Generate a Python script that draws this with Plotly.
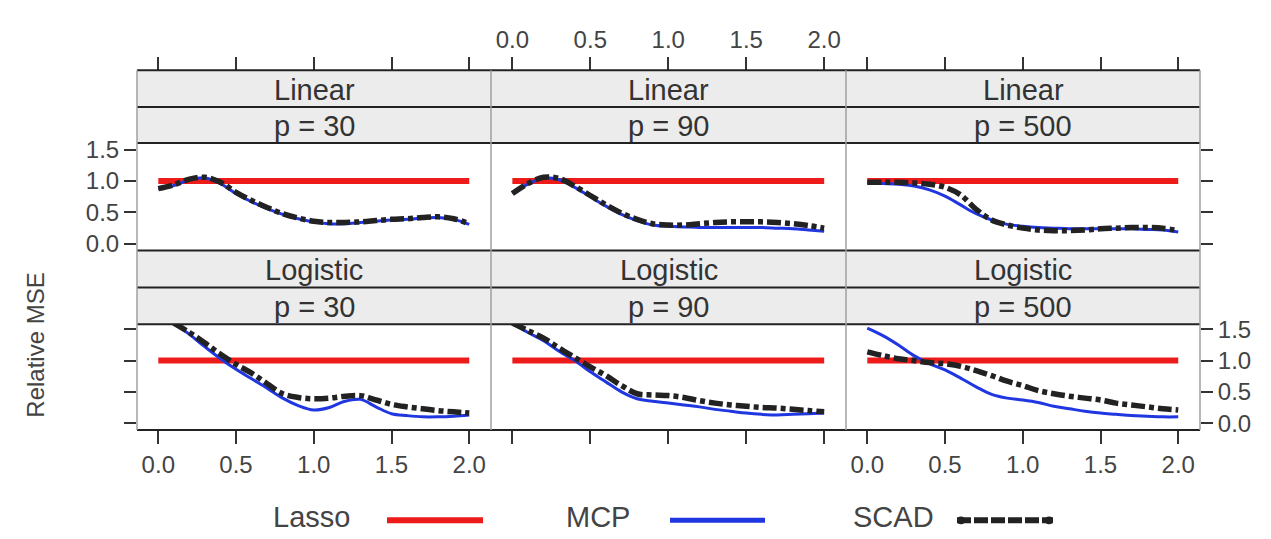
import plotly.graph_objects as go

# ---------------- data ----------------
X = [0.0, 0.1, 0.2, 0.3, 0.4, 0.5, 0.6, 0.7, 0.8, 0.9, 1.0,
     1.1, 1.2, 1.3, 1.4, 1.5, 1.6, 1.7, 1.8, 1.9, 2.0]
LASSO_X = [0.0, 2.0]
LASSO_Y = [1.0, 1.0]

MODELS = ["Linear", "Logistic"]
DIMS = ["p = 30", "p = 90", "p = 500"]
METHODS = ["Lasso", "MCP", "SCAD"]

mcp_linear_30 = [0.88, 0.93, 1.02, 1.05, 0.96, 0.80, 0.67, 0.56, 0.47, 0.40, 0.35,
                 0.32, 0.32, 0.34, 0.36, 0.38, 0.39, 0.41, 0.42, 0.39, 0.31]
scad_linear_30 = [0.88, 0.94, 1.03, 1.06, 0.98, 0.82, 0.69, 0.58, 0.48, 0.41, 0.36,
                  0.34, 0.34, 0.35, 0.37, 0.39, 0.40, 0.42, 0.43, 0.40, 0.32]
mcp_linear_90 = [0.80, 0.95, 1.05, 1.02, 0.90, 0.75, 0.60, 0.47, 0.37, 0.30, 0.28,
                 0.27, 0.26, 0.26, 0.26, 0.26, 0.26, 0.25, 0.24, 0.22, 0.20]
scad_linear_90 = [0.80, 0.96, 1.06, 1.04, 0.92, 0.77, 0.62, 0.49, 0.39, 0.32, 0.30,
                  0.30, 0.32, 0.34, 0.35, 0.35, 0.35, 0.34, 0.32, 0.29, 0.25]
mcp_linear_500 = [0.97, 0.96, 0.95, 0.92, 0.86, 0.76, 0.62, 0.48, 0.38, 0.31, 0.28,
                  0.26, 0.25, 0.24, 0.24, 0.24, 0.24, 0.24, 0.23, 0.22, 0.19]
scad_linear_500 = [0.98, 0.98, 0.98, 0.97, 0.95, 0.90, 0.78, 0.55, 0.38, 0.30, 0.25,
                   0.22, 0.21, 0.21, 0.22, 0.24, 0.25, 0.26, 0.26, 0.25, 0.21]
mcp_logistic_30 = [None, 1.60, 1.42, 1.22, 1.03, 0.86, 0.71, 0.56, 0.40, 0.28, 0.21,
                   0.25, 0.35, 0.38, 0.26, 0.15, 0.12, 0.10, 0.10, 0.11, 0.13]
scad_logistic_30 = [None, 1.60, 1.45, 1.28, 1.10, 0.94, 0.80, 0.63, 0.47, 0.41, 0.39,
                    0.40, 0.43, 0.44, 0.37, 0.30, 0.26, 0.23, 0.20, 0.18, 0.16]
mcp_logistic_90 = [1.60, 1.45, 1.32, 1.15, 1.00, 0.82, 0.66, 0.50, 0.39, 0.35, 0.32,
                   0.29, 0.26, 0.22, 0.19, 0.16, 0.14, 0.13, 0.14, 0.15, 0.16]
scad_logistic_90 = [1.60, 1.48, 1.36, 1.20, 1.05, 0.90, 0.76, 0.60, 0.47, 0.45, 0.44,
                    0.41, 0.36, 0.32, 0.29, 0.27, 0.25, 0.24, 0.22, 0.20, 0.18]
mcp_logistic_500 = [1.52, 1.40, 1.25, 1.08, 0.95, 0.85, 0.72, 0.58, 0.46, 0.40, 0.37,
                    0.33, 0.27, 0.23, 0.19, 0.16, 0.14, 0.12, 0.11, 0.10, 0.10]
scad_logistic_500 = [1.14, 1.08, 1.03, 1.00, 0.97, 0.95, 0.91, 0.84, 0.76, 0.67, 0.60,
                     0.52, 0.47, 0.43, 0.40, 0.37, 0.32, 0.29, 0.26, 0.23, 0.21]

MCP = [[mcp_linear_30, mcp_linear_90, mcp_linear_500],
       [mcp_logistic_30, mcp_logistic_90, mcp_logistic_500]]
SCAD = [[scad_linear_30, scad_linear_90, scad_linear_500],
        [scad_logistic_30, scad_logistic_90, scad_logistic_500]]

XTICKS = [0.0, 0.5, 1.0, 1.5, 2.0]
XTICKTEXT = ["0.0", "0.5", "1.0", "1.5", "2.0"]
YTICKS = [0.0, 0.5, 1.0, 1.5]
YTICKTEXT = ["0.0", "0.5", "1.0", "1.5"]

# ---------------- styling / layout ----------------
W, H = 1271, 539
FONT = "Liberation Sans, Arial, Helvetica, sans-serif"
RED, BLUE, BLACK = "#ee1b1b", "#1f36e0", "#222222"


def fx(p):
    return p / W


def fy(p):
    return 1 - p / H


COLS = [(137, 491), (491, 846), (846, 1200)]
PANEL_ROWS = [(138, 249), (325, 434)]
STRIP1 = [(63, 101), (249, 287)]
STRIP2 = [(101, 138), (287, 325)]
XR = [-0.137, 2.14]
YRS = [[-0.108, 1.608], [-0.112, 1.58]]

fig = go.Figure()
layout = dict(
    width=W, height=H,
    margin=dict(l=0, r=0, t=0, b=0),
    paper_bgcolor="white", plot_bgcolor="white",
    showlegend=False,
    font=dict(family=FONT, color="#444"),
)

tickfont = dict(family=FONT, size=24, color="#444")

for r in range(2):
    for c in range(3):
        n = r * 3 + c + 1
        xs = "" if n == 1 else str(n)
        # traces
        fig.add_trace(go.Scatter(x=LASSO_X, y=LASSO_Y, mode="lines",
                                 line=dict(color=RED, width=6),
                                 xaxis="x" + xs, yaxis="y" + xs, name=METHODS[0]))
        fig.add_trace(go.Scatter(x=X, y=MCP[r][c], mode="lines",
                                 line=dict(color=BLUE, width=3, shape="spline", smoothing=1.0),
                                 xaxis="x" + xs, yaxis="y" + xs, name=METHODS[1]))
        fig.add_trace(go.Scatter(x=X, y=SCAD[r][c], mode="lines",
                                 line=dict(color=BLACK, width=5.5, shape="spline", smoothing=1.0,
                                           dash="14px,4px,5px,4px"),
                                 xaxis="x" + xs, yaxis="y" + xs, name=METHODS[2]))
        # x axis
        xa = dict(domain=[fx(COLS[c][0]), fx(COLS[c][1])], range=XR,
                  tickvals=XTICKS, ticktext=XTICKTEXT, ticks="outside",
                  ticklen=13, tickwidth=1.5, tickcolor="#333",
                  showgrid=False, zeroline=False, showline=False,
                  tickfont=tickfont, fixedrange=True)
        if r == 0:
            xa.update(anchor="free", position=fy(63), side="top",
                      showticklabels=(c == 1))
        else:
            xa.update(anchor="y" + xs, side="bottom",
                      showticklabels=(c != 1))
        layout["xaxis" + xs] = xa
        # y axis
        ya = dict(domain=[fy(PANEL_ROWS[r][1]), fy(PANEL_ROWS[r][0])], range=YRS[r],
                  anchor="x" + xs, tickvals=YTICKS, ticktext=YTICKTEXT,
                  showgrid=False, zeroline=False, showline=False,
                  tickfont=tickfont, fixedrange=True)
        if c == 1:
            ya.update(ticks="", showticklabels=False)
        else:
            ya.update(ticks="outside", ticklen=12, tickwidth=1.5, tickcolor="#333",
                      side="left" if c == 0 else "right",
                      showticklabels=(c == 0 and r == 0) or (c == 2 and r == 1))
        layout["yaxis" + xs] = ya

shapes = []
annotations = []
# strips
for r in range(2):
    for c in range(3):
        for (t, b), label in ((STRIP1[r], MODELS[r]), (STRIP2[r], DIMS[c])):
            shapes.append(dict(type="rect", xref="paper", yref="paper", layer="below",
                               x0=fx(COLS[c][0]), x1=fx(COLS[c][1]), y0=fy(b), y1=fy(t),
                               fillcolor="#ececec", line=dict(width=0)))
            annotations.append(dict(xref="paper", yref="paper", showarrow=False,
                                    x=fx((COLS[c][0] + COLS[c][1]) / 2), y=fy((t + b) / 2 + 1),
                                    text=label, font=dict(family=FONT, size=29, color="#333"),
                                    xanchor="center", yanchor="middle"))
# horizontal borders
for yy in [63, 101, 138, 249, 287, 325, 434]:
    shapes.append(dict(type="line", xref="paper", yref="paper",
                       x0=fx(137), x1=fx(1200), y0=fy(yy), y1=fy(yy),
                       line=dict(color="#222", width=2)))
# vertical borders
for xx in [137, 491, 846, 1200]:
    shapes.append(dict(type="line", xref="paper", yref="paper",
                       x0=fx(xx), x1=fx(xx), y0=fy(63), y1=fy(434),
                       line=dict(color="#a0a0a0", width=1.5)))

# y title
annotations.append(dict(xref="paper", yref="paper", showarrow=False, x=fx(36), y=fy(347),
                        text="Relative MSE", textangle=-90,
                        font=dict(family=FONT, size=24, color="#444"),
                        xanchor="center", yanchor="middle"))

# legend (key) at bottom
KEY_TEXT_X = [311, 598, 893]
KEY_LINE_X = [(387, 483), (670, 765), (957, 1053)]
KEY_COLORS = [RED, BLUE, BLACK]
KEY_WIDTHS = [6, 5, 6]
KEY_DASH = ["solid", "solid", "14px,3px"]
for i, m in enumerate(METHODS):
    annotations.append(dict(xref="paper", yref="paper", showarrow=False,
                            x=fx(KEY_TEXT_X[i]), y=fy(524), text=m,
                            font=dict(family=FONT, size=29, color="#444"),
                            xanchor="center", yanchor="middle"))
    x0, x1 = KEY_LINE_X[i]
    shapes.append(dict(type="line", xref="paper", yref="paper",
                       x0=fx(x0), x1=fx(x1), y0=fy(527), y1=fy(527),
                       line=dict(color=KEY_COLORS[i], width=KEY_WIDTHS[i], dash=KEY_DASH[i])))
# SCAD key end dots
for xx in (961, 1049):
    shapes.append(dict(type="circle", xref="paper", yref="paper",
                       x0=fx(xx - 4), x1=fx(xx + 4), y0=fy(531), y1=fy(523),
                       fillcolor=BLACK, line=dict(width=0)))

layout["shapes"] = shapes
layout["annotations"] = annotations
fig.update_layout(**layout)
fig.write_html(
    "out.html",
    config={"displayModeBar": False},
    post_script="document.body.style.margin='0';document.body.style.overflow='hidden';",
)
